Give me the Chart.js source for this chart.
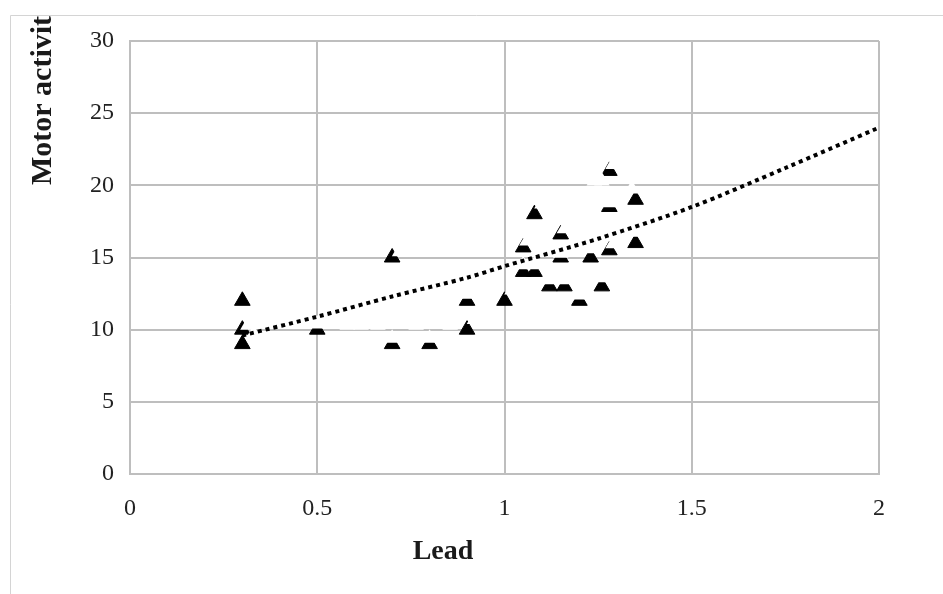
<!DOCTYPE html>
<html lang="en">
  <head>
    <meta charset="UTF-8" />
    <title>Motor activity vs Lead</title>
    <script src="https://cdn.jsdelivr.net/npm/chart.js"></script>
    <style>
      html,
      body {
        margin: 0;
        padding: 0;
        background: #ffffff;
      }

      .chart-box {
        width: 943px;
        height: 594px;
      }
    </style>
  </head>
  <body>
    <div class="chart-box">
      <canvas id="leadChart" width="943" height="594"></canvas>
    </div>

    <script>
      // black triangles (visible points)
      const leadBlack = [0.3, 0.3, 0.3, 0.5, 0.7, 0.8, 0.9, 0.9, 1.0, 0.7, 1.08, 1.05, 1.08, 1.12, 1.16, 1.2, 1.26, 1.23, 1.15, 1.15, 1.05, 1.28, 1.35, 1.35, 1.28, 1.28];
      const motorBlack = [12, 10, 9, 10, 9, 9, 10, 12, 12, 15, 18, 14, 14, 13, 13, 12, 13, 15, 15, 16.6, 15.7, 15.5, 16, 19, 18.5, 21];

      // white triangles laid over them (they cut the tops and break the grid)
      const leadWhite = [0.33, 0.315, 0.33, 0.5, 0.7, 0.8, 0.92, 0.9, 1.02, 0.72, 1.1, 1.05, 1.08, 1.12, 1.16, 1.2, 1.26, 1.23, 1.34, 1.34, 1.28, 1.29, 1.16, 1.06, 1.16, 1.29, 0.58, 0.617, 0.662, 0.764, 0.855, 0.4, 1.24, 1.26, 1.15];
      const motorWhite = [12.7, 10.3, 9.7, 10.4, 9.4, 9.4, 10.7, 12.45, 12.75, 15.4, 18.7, 14.5, 14.5, 13.45, 13.45, 12.4, 13.6, 15.6, 16.75, 19.75, 18.8, 21.45, 17.0, 16.15, 15.45, 15.95, 10.3, 10.3, 10.3, 10.3, 10.3, 11.2, 20.3, 20.3, 15.3];

      // dotted trend line
      const trendLead = [0.3, 0.5, 0.7, 0.9, 1.0, 1.25, 1.5, 1.75, 2.0];
      const trendMotor = [9.6, 10.9, 12.3, 13.6, 14.4, 16.3, 18.5, 21.2, 24.0];

      const xTicks = [0, 0.5, 1, 1.5, 2];
      const yTicks = [0, 5, 10, 15, 20, 25, 30];

      const gridColor = "#bebebe";
      const serif = "'Liberation Serif', 'DejaVu Serif', serif";

      function toPoints(xs, ys) {
        return xs.map((x, i) => ({ x: x, y: ys[i] }));
      }

      const framePlugin = {
        id: "frame",
        beforeDraw(chart) {
          const ctx = chart.ctx;
          ctx.save();
          ctx.fillStyle = "#ffffff";
          ctx.fillRect(0, 0, chart.width, chart.height);
          ctx.strokeStyle = "#d4d4d4";
          ctx.lineWidth = 1;
          ctx.beginPath();
          ctx.moveTo(10.5, chart.height);
          ctx.lineTo(10.5, 15.5);
          ctx.lineTo(chart.width, 15.5);
          ctx.stroke();
          ctx.restore();
        },
        afterDraw(chart) {
          const ctx = chart.ctx;
          ctx.save();
          ctx.fillStyle = "#1a1a1a";
          ctx.font = "bold 28px " + serif;
          ctx.textAlign = "center";
          ctx.textBaseline = "middle";
          ctx.fillText("Lead", 443, 552);

          // y axis title, cut off by the frame at the top like the original
          ctx.beginPath();
          ctx.rect(0, 16, chart.width, chart.height - 16);
          ctx.clip();
          ctx.translate(51, 185);
          ctx.rotate(-Math.PI / 2);
          ctx.font = "bold 30px " + serif;
          ctx.textAlign = "left";
          ctx.textBaseline = "alphabetic";
          ctx.fillText("Motor activity", 0, 0);
          ctx.restore();
        },
      };

      new Chart(document.getElementById("leadChart").getContext("2d"), {
        type: "scatter",
        data: {
          datasets: [
            {
              type: "line",
              label: "Trend",
              data: toPoints(trendLead, trendMotor),
              borderColor: "#000000",
              borderWidth: 4,
              borderDash: [4, 4],
              borderCapStyle: "butt",
              pointRadius: 0,
              tension: 0.3,
              fill: false,
              order: 0,
            },
            {
              label: "White",
              data: toPoints(leadWhite, motorWhite),
              pointStyle: "triangle",
              pointRadius: 9,
              backgroundColor: "#ffffff",
              borderColor: "#ffffff",
              borderWidth: 0,
              order: 1,
            },
            {
              label: "Motor activity",
              data: toPoints(leadBlack, motorBlack),
              pointStyle: "triangle",
              pointRadius: 9,
              backgroundColor: "#000000",
              borderColor: "#000000",
              borderWidth: 1,
              order: 2,
            },
          ],
        },
        plugins: [framePlugin],
        options: {
          responsive: false,
          animation: false,
          layout: { padding: { left: 0, right: 64, top: 41, bottom: 0 } },
          plugins: {
            legend: { display: false },
            tooltip: { enabled: false },
          },
          scales: {
            x: {
              type: "linear",
              min: 0,
              max: 2,
              afterBuildTicks: (scale) => {
                scale.ticks = xTicks.map((v) => ({ value: v }));
              },
              afterFit: (scale) => {
                scale.height = 120;
              },
              grid: { color: gridColor, lineWidth: 2, drawTicks: false },
              border: { color: gridColor, width: 2 },
              ticks: {
                padding: 20,
                color: "#222222",
                font: { family: serif, size: 24 },
                callback: (v) => String(v),
              },
            },
            y: {
              type: "linear",
              min: 0,
              max: 30,
              afterBuildTicks: (scale) => {
                scale.ticks = yTicks.map((v) => ({ value: v }));
              },
              afterFit: (scale) => {
                scale.width = 130;
              },
              grid: { color: gridColor, lineWidth: 2, drawTicks: false },
              border: { color: gridColor, width: 2 },
              ticks: {
                padding: 16,
                color: "#222222",
                font: { family: serif, size: 24 },
              },
            },
          },
        },
      });
    </script>
  </body>
</html>
